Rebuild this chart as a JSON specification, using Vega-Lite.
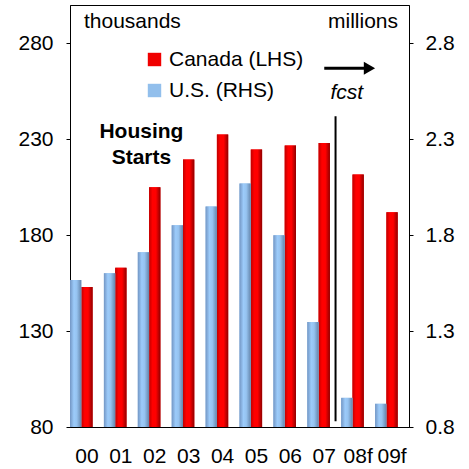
{
  "$schema": "https://vega.github.io/schema/vega-lite/v6.json",
  "autosize": "none",
  "width": 339,
  "height": 422,
  "padding": {"left": 70, "top": 5, "right": 60, "bottom": 42},
  "background": "white",
  "config": {
    "font": "Liberation Sans",
    "view": {"stroke": "black", "strokeWidth": 1},
    "axis": {"labelFont": "Liberation Sans", "labelFontSize": 21, "labelColor": "black", "domainColor": "black", "tickColor": "black", "grid": false, "title": null},
    "scale": {"bandPaddingInner": 0, "bandPaddingOuter": 0, "offsetBandPaddingInner": 0, "offsetBandPaddingOuter": 0}
  },
  "datasets": {
    "bars": [
      {"year": "00", "country": "Canada (LHS)", "value": 153},
      {"year": "01", "country": "Canada (LHS)", "value": 163},
      {"year": "02", "country": "Canada (LHS)", "value": 205},
      {"year": "03", "country": "Canada (LHS)", "value": 219.5},
      {"year": "04", "country": "Canada (LHS)", "value": 232.5},
      {"year": "05", "country": "Canada (LHS)", "value": 224.7},
      {"year": "06", "country": "Canada (LHS)", "value": 226.8},
      {"year": "07", "country": "Canada (LHS)", "value": 228},
      {"year": "08f", "country": "Canada (LHS)", "value": 211.7},
      {"year": "09f", "country": "Canada (LHS)", "value": 192},
      {"year": "00", "country": "U.S. (RHS)", "value": 1.566},
      {"year": "01", "country": "U.S. (RHS)", "value": 1.602},
      {"year": "02", "country": "U.S. (RHS)", "value": 1.711},
      {"year": "03", "country": "U.S. (RHS)", "value": 1.852},
      {"year": "04", "country": "U.S. (RHS)", "value": 1.95},
      {"year": "05", "country": "U.S. (RHS)", "value": 2.07},
      {"year": "06", "country": "U.S. (RHS)", "value": 1.8},
      {"year": "07", "country": "U.S. (RHS)", "value": 1.347},
      {"year": "08f", "country": "U.S. (RHS)", "value": 0.952},
      {"year": "09f", "country": "U.S. (RHS)", "value": 0.921}
    ],
    "fcstLine": [{"year": "07", "slot": "_", "top": 242, "bottom": 83}],
    "arrow": [
      {"year": "07", "slot": "Canada (LHS)", "value": 267},
      {"year": "08f", "slot": "_", "value": 267}
    ],
    "arrowHead": [{"year": "08f", "slot": "_", "value": 267}],
    "fcstText": [{"year": "08f", "slot": "U.S. (RHS)", "value": 254, "label": "fcst"}],
    "titleText": [
      {"year": "02", "slot": "U.S. (RHS)", "value": 234, "label": "Housing"},
      {"year": "02", "slot": "U.S. (RHS)", "value": 220, "label": "Starts"}
    ],
    "leftUnit": [{"year": "00", "value": 291, "label": "thousands"}],
    "rightUnit": [{"year": "09f", "value": 291, "label": "millions"}]
  },
  "encoding": {
    "x": {
      "field": "year", "type": "ordinal",
      "scale": {"domain": ["00", "01", "02", "03", "04", "05", "06", "07", "08f", "09f"], "paddingInner": 0, "paddingOuter": 0},
      "axis": {"labelAngle": 0, "ticks": false, "labelPadding": 18, "labelBaseline": "top"}
    }
  },
  "layer": [
    {
      "layer": [
        {
          "data": {"name": "bars"},
          "transform": [{"filter": "datum.country === 'Canada (LHS)'"}],
          "mark": {"type": "bar"},
          "encoding": {
            "xOffset": {"field": "country", "type": "nominal", "scale": {"domain": ["U.S. (RHS)", "Canada (LHS)", "_"], "paddingInner": 0, "paddingOuter": 0}},
            "y": {"field": "value", "type": "quantitative", "scale": {"domain": [80, 300], "nice": false, "zero": false},
              "axis": {"orient": "left", "values": [80, 130, 180, 230, 280], "tickSize": 4, "labelPadding": 13}},
            "y2": {"datum": 80},
            "color": {"field": "country", "type": "nominal",
              "scale": {"domain": ["Canada (LHS)", "U.S. (RHS)"], "range": ["#f00000", "#92bfec"]},
              "legend": {"orient": "none", "legendX": 74, "legendY": 44, "title": null, "padding": 0,
                "symbolType": "square", "symbolSize": 180, "symbolStrokeWidth": 0, "labelFontSize": 21,
                "labelFont": "Liberation Sans", "labelColor": "black", "labelOffset": 4, "rowPadding": 9}}
          }
        },
        {
          "data": {"name": "bars"},
          "transform": [{"filter": "datum.country === 'Canada (LHS)'"}],
          "mark": {"type": "bar", "fill": {"gradient": "linear", "x1": 0, "y1": 0, "x2": 1, "y2": 0,
            "stops": [{"offset": 0, "color": "#c00000"}, {"offset": 0.3, "color": "#ff0000"}, {"offset": 0.6, "color": "#ff0000"}, {"offset": 1, "color": "#900000"}]}},
          "encoding": {
            "xOffset": {"field": "country", "type": "nominal", "scale": {"domain": ["U.S. (RHS)", "Canada (LHS)", "_"], "paddingInner": 0, "paddingOuter": 0}},
            "y": {"field": "value", "type": "quantitative"},
            "y2": {"datum": 80}
          }
        },
        {
          "data": {"name": "fcstLine"},
          "mark": {"type": "rule", "color": "black", "strokeWidth": 2},
          "encoding": {
            "xOffset": {"field": "slot", "type": "nominal", "scale": {"domain": ["U.S. (RHS)", "Canada (LHS)", "_"], "paddingInner": 0, "paddingOuter": 0}},
            "y": {"field": "top", "type": "quantitative"},
            "y2": {"field": "bottom"}
          }
        },
        {
          "data": {"name": "arrow"},
          "mark": {"type": "line", "color": "black", "strokeWidth": 3},
          "encoding": {
            "xOffset": {"field": "slot", "type": "nominal", "scale": {"domain": ["U.S. (RHS)", "Canada (LHS)", "_"], "paddingInner": 0, "paddingOuter": 0}},
            "y": {"field": "value", "type": "quantitative"}
          }
        },
        {
          "data": {"name": "arrowHead"},
          "mark": {"type": "point", "shape": "triangle-right", "filled": true, "color": "black", "size": 170, "opacity": 1},
          "encoding": {
            "xOffset": {"field": "slot", "type": "nominal", "scale": {"domain": ["U.S. (RHS)", "Canada (LHS)", "_"], "paddingInner": 0, "paddingOuter": 0}},
            "y": {"field": "value", "type": "quantitative"}
          }
        },
        {
          "data": {"name": "fcstText"},
          "mark": {"type": "text", "fontSize": 21, "fontStyle": "italic", "font": "Liberation Sans", "color": "black", "baseline": "middle", "align": "center"},
          "encoding": {
            "xOffset": {"field": "slot", "type": "nominal", "scale": {"domain": ["U.S. (RHS)", "Canada (LHS)", "_"], "paddingInner": 0, "paddingOuter": 0}},
            "y": {"field": "value", "type": "quantitative"},
            "text": {"field": "label"}
          }
        },
        {
          "data": {"name": "titleText"},
          "mark": {"type": "text", "fontSize": 21, "fontWeight": "bold", "font": "Liberation Sans", "color": "black", "baseline": "middle", "align": "center", "dx": -2},
          "encoding": {
            "xOffset": {"field": "slot", "type": "nominal", "scale": {"domain": ["U.S. (RHS)", "Canada (LHS)", "_"], "paddingInner": 0, "paddingOuter": 0}},
            "y": {"field": "value", "type": "quantitative"},
            "text": {"field": "label"}
          }
        },
        {
          "data": {"name": "leftUnit"},
          "mark": {"type": "text", "fontSize": 21, "font": "Liberation Sans", "color": "black", "baseline": "middle", "align": "left", "dx": -3},
          "encoding": {
            "y": {"field": "value", "type": "quantitative"},
            "text": {"field": "label"}
          }
        },
        {
          "data": {"name": "rightUnit"},
          "mark": {"type": "text", "fontSize": 21, "font": "Liberation Sans", "color": "black", "baseline": "middle", "align": "right", "dx": 6},
          "encoding": {
            "y": {"field": "value", "type": "quantitative"},
            "text": {"field": "label"}
          }
        }
      ]
    },
    {
      "layer": [
        {
          "data": {"name": "bars"},
          "transform": [{"filter": "datum.country === 'U.S. (RHS)'"}],
          "mark": {"type": "bar"},
          "encoding": {
            "xOffset": {"field": "country", "type": "nominal", "scale": {"domain": ["U.S. (RHS)", "Canada (LHS)", "_"], "paddingInner": 0, "paddingOuter": 0}},
            "y": {"field": "value", "type": "quantitative", "scale": {"domain": [0.8, 3.0], "nice": false, "zero": false},
              "axis": {"orient": "right", "values": [0.8, 1.3, 1.8, 2.3, 2.8], "format": ".1f", "tickSize": 4, "labelPadding": 12}},
            "y2": {"datum": 0.8},
            "color": {"field": "country", "type": "nominal"}
          }
        },
        {
          "data": {"name": "bars"},
          "transform": [{"filter": "datum.country === 'U.S. (RHS)'"}],
          "mark": {"type": "bar", "fill": {"gradient": "linear", "x1": 0, "y1": 0, "x2": 1, "y2": 0,
            "stops": [{"offset": 0, "color": "#7396c4"}, {"offset": 0.35, "color": "#9ccbfa"}, {"offset": 0.6, "color": "#96c3f0"}, {"offset": 1, "color": "#6585ab"}]}},
          "encoding": {
            "xOffset": {"field": "country", "type": "nominal", "scale": {"domain": ["U.S. (RHS)", "Canada (LHS)", "_"], "paddingInner": 0, "paddingOuter": 0}},
            "y": {"field": "value", "type": "quantitative"},
            "y2": {"datum": 0.8}
          }
        }
      ]
    }
  ],
  "resolve": {"scale": {"y": "independent"}, "axis": {"y": "independent"}}
}
